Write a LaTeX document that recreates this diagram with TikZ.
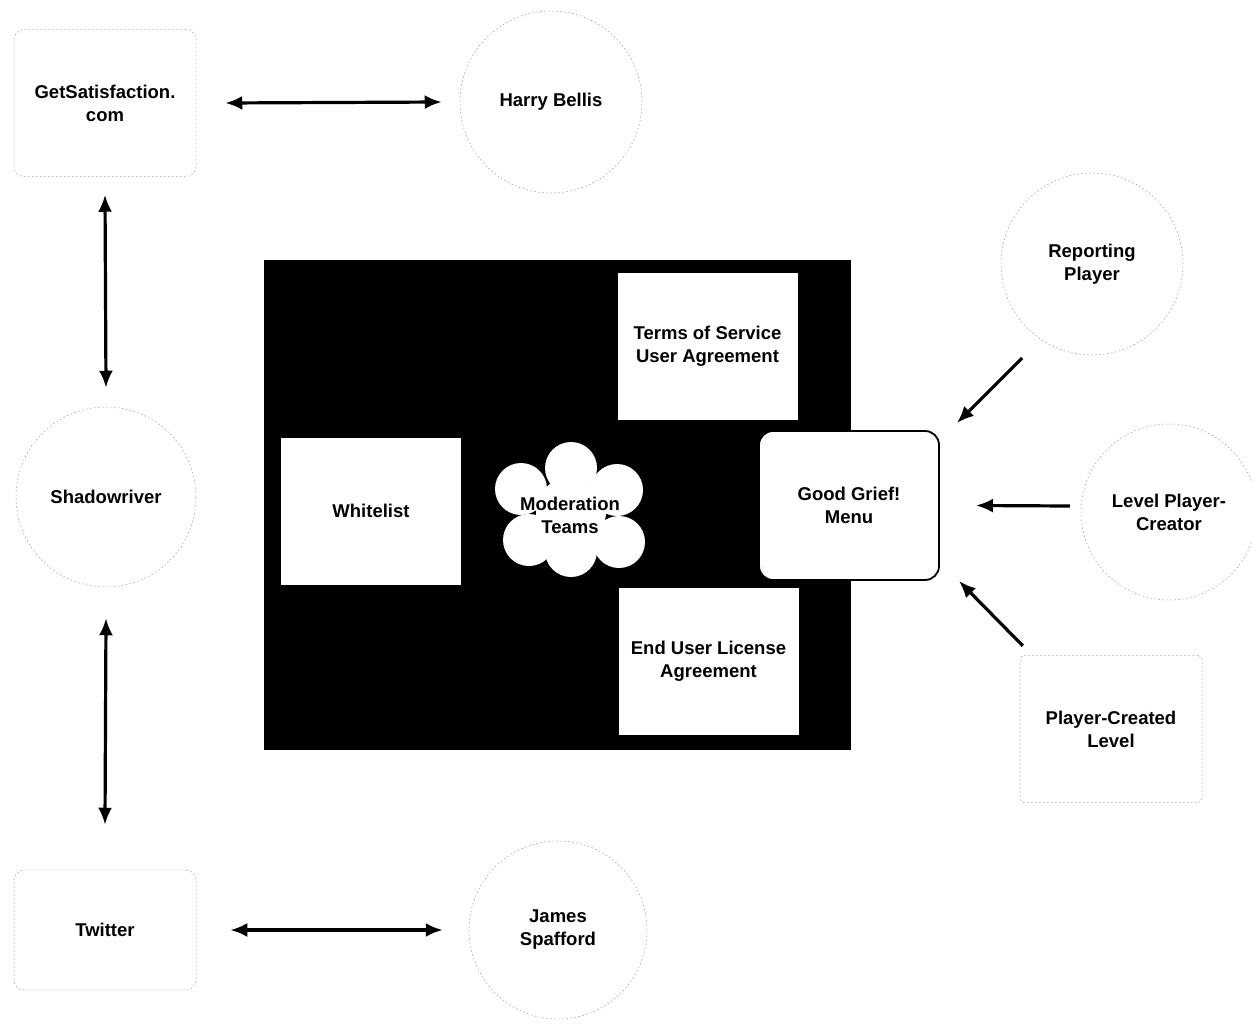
\documentclass[tikz,border=0pt]{standalone}
\usepackage{fontspec}
\setmainfont{Liberation Sans}
\usetikzlibrary{arrows.meta,calc}
\begin{document}
\begin{tikzpicture}[x=1pt,y=-1pt,
  lbl/.style={font=\fontsize{18.5}{23}\selectfont\bfseries, align=center, text=black},
  faint/.style={draw=black!40, line width=0.5pt, dash pattern=on 1.5pt off 2.5pt},
  fcircle/.style={lbl, faint, circle, minimum size=182pt, inner sep=0pt},
  fbox/.style={lbl, faint, rectangle, rounded corners=10pt, minimum width=182pt, minimum height=147pt, inner sep=0pt},
  wbox/.style={lbl, fill=white, draw=none, minimum width=180pt, minimum height=147pt, inner sep=0pt},
  petal/.style={circle, fill=white, draw=none, minimum size=52pt, inner sep=0pt},
  conn/.style={line width=3.2pt, {Latex[length=17pt,width=14pt]}-{Latex[length=17pt,width=14pt]}},
  oneway/.style={line width=3.2pt, -{Latex[length=17pt,width=14pt]}},
]
\fill[white] (0,0) rectangle (1252,1025);
\useasboundingbox (0,0) rectangle (1252,1025);

% outer nodes
\node[fbox] (gs) at (105,103) {GetSatisfaction.\\com};
\node[fcircle] (hb) at (551,102) {Harry Bellis};
\node[fcircle, minimum size=180pt] (sh) at (106,497) {Shadowriver};
\node[fbox, minimum height=120pt] (tw) at (105,930) {Twitter};
\node[fcircle, minimum size=178pt] (js) at (558,930) {James\\Spafford};

% central block
\node[fill=black, draw=none, minimum width=587pt, minimum height=490pt, inner sep=0pt] (core) at (557.5,505) {};
\node[wbox] (tos) at (707.5,346) {Terms of Service\\User Agreement};
\node[wbox] (wl) at (371,511) {Whitelist};
\node[wbox] (eula) at (708.5,661.5) {End User License\\Agreement};

% moderation flower
\node[petal, minimum size=70pt] (hub) at (571,512) {};
\node[petal] (p1) at (571,468) {};
\node[petal] (p2) at (617,490) {};
\node[petal] (p3) at (619,542) {};
\node[petal] (p4) at (571,551) {};
\node[petal] (p5) at (529,540) {};
\node[petal] (p6) at (521,489) {};
\node[lbl] (mod) at (570,515) {Moderation\\Teams};

\node[lbl, fill=white, draw=black, line width=1.8pt, rounded corners=14pt, minimum width=180pt, minimum height=149pt, inner sep=0pt] (gg) at (849,505.5) {Good Grief!\\Menu};

% right side
\node[fcircle] (rp) at (1092,264) {Reporting\\Player};
\node[fcircle, minimum size=176pt] (lv) at (1169,512) {Level Player-\\Creator};
\node[fbox, rounded corners=4pt] (pcl) at (1111,729) {Player-Created\\Level};

% connectors
\draw[conn] ([xshift=29pt]gs.east) -- ([xshift=-18pt]hb.west);
\draw[conn] ([yshift=-18pt]gs.south) -- ([yshift=19pt]sh.north);
\draw[conn] ([yshift=-31pt]sh.south) -- ([yshift=45pt]tw.north);
\draw[conn] ([xshift=34pt]tw.east) -- ([xshift=-26pt]js.west);
\draw[oneway] ([shift={(-70,94)}]rp.center) -- ([shift={(17,-7)}]gg.north east);
\draw[oneway] ([shift={(-11,-6)}]lv.west) -- ([shift={(36,0)}]gg.east);
\draw[oneway] ([shift={(3,-9.5)}]pcl.north west) -- ([shift={(19,0)}]gg.south east);
\end{tikzpicture}
\end{document}
